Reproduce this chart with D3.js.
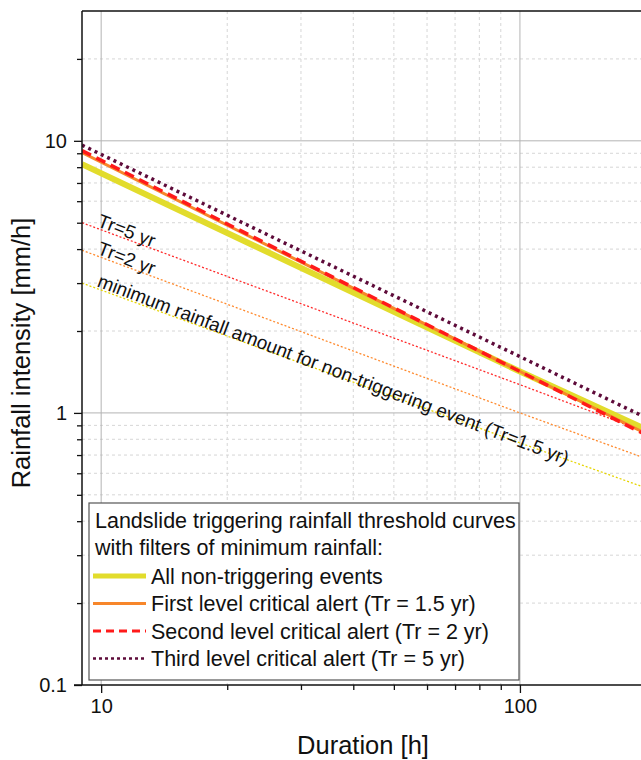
<!DOCTYPE html>
<html lang="en">
<head>
  <meta charset="UTF-8">
  <title>Rainfall threshold curves</title>
  <script src="https://d3js.org/d3.v7.min.js"></script>
  <style>
    body { margin: 0; background: #fff; }
    svg { font-family: "Liberation Sans", Arial, sans-serif; display: block; }
    .grid-major { stroke: #b4b4b4; stroke-width: 1; }
    .grid-minor { stroke: #d6d6d6; stroke-width: 1; stroke-dasharray: 3,3; }
    .axis-line { stroke: #111; stroke-width: 1.5; }
  </style>
</head>
<body>
<svg width="641" height="760"></svg>
<script>
const durations = [9, 100, 200];

// threshold curves, intensity in mm/h
const allEvents   = [8.2, 1.42, 0.87];
const firstLevel  = [9.05, 1.42, 0.84];
const secondLevel = [9.2, 1.42, 0.83];
const thirdLevel  = [9.64, 1.61, 0.96];

// reference curves (thin dotted)
const tr5Curve   = [5.0, 1.27, 0.85];
const tr2Curve   = [3.96, 1.0, 0.68];
const minRain    = [3.0, 0.776, 0.53];

const xMajor = [10, 100];
const xMinor = [20, 30, 40, 50, 60, 70, 80, 90];
const yMajor = [0.1, 1, 10];
const yMinor = [0.2, 0.3, 0.4, 0.5, 0.6, 0.7, 0.8, 0.9, 2, 3, 4, 5, 6, 7, 8, 9, 20];

const legendTitle = ["Landslide triggering rainfall threshold curves",
                     "with filters of minimum rainfall:"];

const series = [
  { name: "All non-triggering events", values: allEvents, color: "#e2dc2c", width: 6, dash: null, lw: 5, ldash: null },
  { name: "First level critical alert (Tr = 1.5 yr)", values: firstLevel, color: "#f7862a", width: 3, dash: null, lw: 3, ldash: null },
  { name: "Second level critical alert (Tr = 2 yr)", values: secondLevel, color: "#ff1a1a", width: 3.5, dash: "10,6", lw: 3, ldash: "8,5" },
  { name: "Third level critical alert (Tr = 5 yr)", values: thirdLevel, color: "#5e0b3a", width: 3.5, dash: "3,4", lw: 2.5, ldash: "3,3" }
];

const refCurves = [
  { label: "Tr=5 yr", values: tr5Curve, color: "#ff2a2a" },
  { label: "Tr=2 yr", values: tr2Curve, color: "#ff8a2e" },
  { label: "minimum rainfall amount for non-triggering event (Tr=1.5 yr)", values: minRain, color: "#e6d400" }
];

const mLeft = 82, mRight = 646, mTop = 11, mBottom = 685;

const x = d3.scaleLog().domain([9, 200]).range([mLeft, mRight]);
const y = d3.scaleLog().domain([0.1, 30]).range([mBottom, mTop]);

const svg = d3.select("svg");

svg.append("clipPath").attr("id", "plot")
  .append("rect")
  .attr("x", mLeft).attr("y", mTop)
  .attr("width", mRight - mLeft).attr("height", mBottom - mTop);

// grid
const grid = svg.append("g");
grid.selectAll(".vminor").data(xMinor).enter().append("line")
  .attr("class", "grid-minor")
  .attr("x1", d => x(d)).attr("x2", d => x(d))
  .attr("y1", mTop).attr("y2", mBottom);
grid.selectAll(".hminor").data(yMinor).enter().append("line")
  .attr("class", "grid-minor")
  .attr("x1", mLeft).attr("x2", mRight)
  .attr("y1", d => y(d)).attr("y2", d => y(d));
grid.selectAll(".vmajor").data(xMajor).enter().append("line")
  .attr("class", "grid-major")
  .attr("x1", d => x(d)).attr("x2", d => x(d))
  .attr("y1", mTop).attr("y2", mBottom);
grid.selectAll(".hmajor").data([1, 10]).enter().append("line")
  .attr("class", "grid-major")
  .attr("x1", mLeft).attr("x2", mRight)
  .attr("y1", d => y(d)).attr("y2", d => y(d));

const line = d3.line()
  .x((d, i) => x(durations[i]))
  .y(d => y(d));

const plot = svg.append("g").attr("clip-path", "url(#plot)");

// thin reference curves
refCurves.forEach(c => {
  plot.append("path")
    .attr("d", line(c.values))
    .attr("fill", "none")
    .attr("stroke", c.color)
    .attr("stroke-width", 1.3)
    .attr("stroke-dasharray", "2,2");
});

// threshold curves
series.forEach(s => {
  plot.append("path")
    .attr("d", line(s.values))
    .attr("fill", "none")
    .attr("stroke", s.color)
    .attr("stroke-width", s.width)
    .attr("stroke-dasharray", s.dash);
});

// labels along the thin curves
refCurves.forEach(c => {
  const d0 = 9.7;
  const px = x(d0);
  const logI = d3.scaleLinear()
    .domain([Math.log10(durations[0]), Math.log10(durations[1])])
    .range([Math.log10(c.values[0]), Math.log10(c.values[1])]);
  const py = y(Math.pow(10, logI(Math.log10(d0))));
  const ang = Math.atan2(y(c.values[1]) - y(c.values[0]), x(durations[1]) - x(durations[0])) * 180 / Math.PI;
  svg.append("text")
    .attr("transform", `translate(${px},${py}) rotate(${ang + 0.8}) translate(0,-2)`)
    .attr("font-size", "19px")
    .attr("fill", "#111")
    .text(c.label);
});

// axes
const xAxis = svg.append("g").attr("transform", `translate(0,${mBottom})`);
xAxis.call(d3.axisBottom(x).tickValues(xMajor).tickSize(8).tickPadding(6).tickFormat(d3.format("d")));
const xAxisMinor = svg.append("g").attr("transform", `translate(0,${mBottom})`);
xAxisMinor.call(d3.axisBottom(x).tickValues(xMinor).tickSize(5).tickFormat(""));

const yAxis = svg.append("g").attr("transform", `translate(${mLeft},0)`);
yAxis.call(d3.axisLeft(y).tickValues(yMajor).tickSize(8).tickPadding(7).tickFormat(d => d < 1 ? "0.1" : d3.format("d")(d)));
const yAxisMinor = svg.append("g").attr("transform", `translate(${mLeft},0)`);
yAxisMinor.call(d3.axisLeft(y).tickValues(yMinor).tickSize(5).tickFormat(""));

svg.selectAll(".domain").remove();
svg.selectAll(".tick line").attr("stroke", "#111").attr("stroke-width", 1.3);
svg.selectAll(".tick text")
  .attr("font-family", "Liberation Sans, Arial, sans-serif")
  .attr("font-size", "20px")
  .attr("fill", "#111");

svg.append("line").attr("class", "axis-line")
  .attr("x1", mLeft).attr("x2", mLeft).attr("y1", mTop).attr("y2", mBottom);
svg.append("line").attr("class", "axis-line")
  .attr("x1", mLeft - 8).attr("x2", mRight).attr("y1", mBottom).attr("y2", mBottom);
svg.append("line").attr("class", "axis-line")
  .attr("x1", mLeft).attr("x2", mRight).attr("y1", mTop).attr("y2", mTop)
  .attr("stroke-width", 2);

// axis titles
svg.append("text")
  .attr("x", 363)
  .attr("y", 754)
  .attr("text-anchor", "middle")
  .attr("font-size", "25.5px")
  .attr("fill", "#111")
  .text("Duration [h]");

svg.append("text")
  .attr("transform", "translate(30,353) rotate(-90)")
  .attr("text-anchor", "middle")
  .attr("font-size", "25.5px")
  .attr("fill", "#111")
  .text("Rainfall intensity [mm/h]");

// legend
const lg = svg.append("g");
lg.append("rect")
  .attr("x", 89).attr("y", 503)
  .attr("width", 430).attr("height", 177)
  .attr("fill", "#fff")
  .attr("stroke", "#555")
  .attr("stroke-width", 1.2);

const rowY = d3.scaleLinear().domain([0, 1]).range([520, 547.5]);

lg.selectAll(".ltitle").data(legendTitle).enter().append("text")
  .attr("x", 95)
  .attr("y", (d, i) => rowY(i) + 7.5)
  .attr("font-size", "21.5px")
  .attr("fill", "#111")
  .text(d => d);

series.forEach((s, i) => {
  const cy = rowY(i + 2) + 1;
  lg.append("line")
    .attr("x1", 93).attr("x2", 146)
    .attr("y1", cy).attr("y2", cy)
    .attr("stroke", s.color)
    .attr("stroke-width", s.lw)
    .attr("stroke-dasharray", s.ldash);
  lg.append("text")
    .attr("x", 151)
    .attr("y", cy + 7.5)
    .attr("font-size", "21.5px")
    .attr("fill", "#111")
    .text(s.name);
});
</script>
</body>
</html>
